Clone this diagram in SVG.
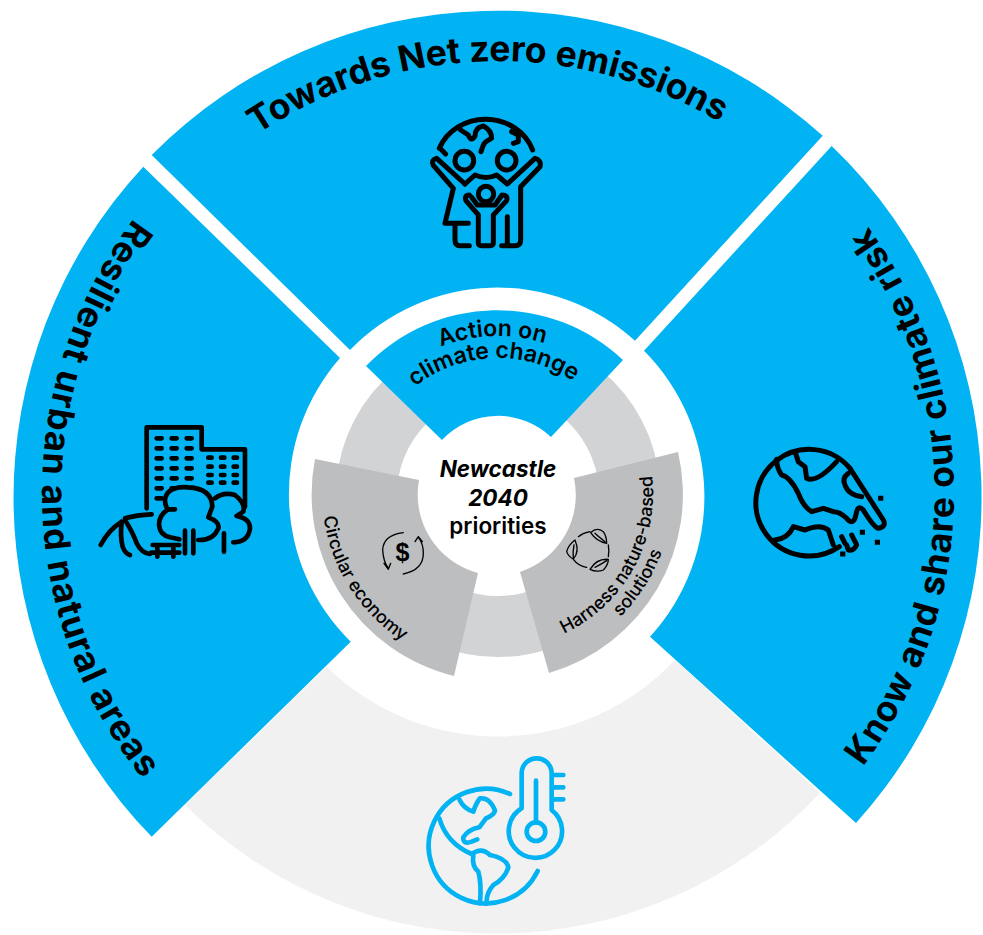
<svg xmlns="http://www.w3.org/2000/svg" width="983" height="935" viewBox="0 0 983 935">
<style>
.blue{fill:#02b3f3}
.t{font-family:"Inter","Liberation Sans",sans-serif;font-weight:600;fill:#000}
.big{font-size:35.5px;font-weight:700}
.mid{font-size:23px}
.sm{font-size:18px;font-weight:500}
.cen{font-size:22.5px;text-anchor:middle}
.ic{fill:none;stroke:#000;stroke-linecap:round;stroke-linejoin:round}
.ib{fill:none;stroke:#02b3f3;stroke-linecap:round;stroke-linejoin:round}
</style>
<defs>
<path id="pTop" d="M118.4 286.9A432 432 0 0 1 866.3 267.3"/>
<path id="pLeft" d="M270 98.1A456 456 0 0 0 283.9 895.6"/>
<path id="pRight" d="M722.5 889.9A456 456 0 0 0 729.4 100.1"/>
<path id="pAct1" d="M377.7 392.1A157 157 0 0 1 610.9 383.9"/>
<path id="pAct2" d="M394.6 406.2A135 135 0 0 1 595.1 399.2"/>
<path id="pCirc" d="M324.7 462.4A176 176 0 0 0 452.4 663"/>
<path id="pHar1" d="M539.7 642.7A155 155 0 0 0 647 450.3"/>
<path id="pHar2" d="M543 661.1A174 174 0 0 0 669.4 463"/>
</defs>
<rect width="983" height="935" fill="#fff"/>

<g id="node-climate-bottom">
<path d="M185 805A442 442 0 0 0 820 793L675 660A244 244 0 0 1 326.7 666.7Z" fill="#f1f1f2"/>
<g class="ib" stroke-width="14" transform="translate(410 740) scale(.3333)">
<path d="M300 162A172 172 0 1 0 383 393"/>
<path d="M335 205V100A43 43 0 0 1 425 100V210A80 80 0 1 1 335 205Z"/>
<circle cx="378" cy="275" r="28"/>
<path d="M378 122V248M432 105H460M432 142H460M432 178H460"/>
<path d="M148 178Q160 205 190 215Q198 190 210 175Q240 172 255 212Q252 225 228 235L208 262Q175 268 160 292Q158 315 185 305L202 298"/>
<path d="M88 235Q110 310 185 342Q215 320 240 345Q290 355 295 382Q285 415 250 435Q228 460 230 490"/>
<path d="M190 345Q185 380 205 395Q215 430 210 490"/>
</g>
</g>

<g id="node-net-zero">
<path class="blue" d="M151.7 155A486 486 0 0 1 822.7 135.7L635 340.7A205 205 0 0 0 350 350Z"/>
<text class="t big"><textPath href="#pTop" startOffset="50%" text-anchor="middle">Towards Net zero emissions</textPath></text>
<g class="ic" stroke-width="15" transform="translate(400 80) scale(.3333)">
<path d="M118 205A150 140 0 0 1 398 210"/>
<path d="M120 205L137 222M182 150L205 165Q213 188 225 168Q225 142 250 138Q275 150 275 175Q255 185 250 195L243 215"/>
<path d="M335 155L355 165L355 185L340 190"/>
<circle cx="193" cy="242" r="28"/><circle cx="320" cy="242" r="28"/><circle cx="258" cy="342" r="23"/>
<path d="M195 312L110 235Q92 240 100 256L160 325L135 430H205M165 430V480Q165 497 180 497H208"/>
<path d="M195 312L225 285Q258 300 290 285L322 312L405 235Q425 240 420 260L362 320V480Q362 497 345 497H305M322 410V492"/>
<path d="M208 345Q192 345 198 362L235 405V490Q235 497 245 497H270Q280 497 280 490V405L320 362Q325 345 306 345L285 375H232L215 352"/>
</g>
</g>

<g id="node-resilient">
<path class="blue" d="M143.3 166.7A486 486 0 0 0 151.7 836.7L350.7 641.7A207 207 0 0 1 340 358Z"/>
<text class="t big" letter-spacing="1.1"><textPath href="#pLeft" startOffset="50%" text-anchor="middle">Resilient urban and natural areas</textPath></text>
<g class="ic" stroke-width="14" transform="translate(80 410) scale(.3333)">
<path d="M200 295V52H365V115M365 118H495V290"/>
<path d="M230 85H245M275 85H290M320 85H335M230 115H245M275 115H290M320 115H335M230 145H245M275 145H290M320 145H335M230 175H245M275 175H290M320 175H335M230 205H245M275 205H290M320 205H335M230 235H245M275 235H285M230 265H245"/>
<path d="M385 143H395M423 143H433M461 143H471M385 170H395M423 170H433M461 170H471M385 195H395M423 195H433M461 195H471M385 218H395M423 218H433M461 218H471"/>
<path d="M285 298H262Q248 270 262 250Q280 228 325 232Q395 235 397 290L385 322Q420 335 415 355Q400 392 355 390"/>
<path d="M262 300Q237 315 237 345Q240 375 270 382L298 388"/>
<path d="M315 362V430M340 362V430"/>
<path d="M405 265Q430 245 465 255Q497 280 490 305L470 318Q510 325 510 355Q505 397 460 397M432 370V425"/>
<path d="M218 405H298M214 428H298M232 408V440M280 408V440"/>
<path d="M62 405Q85 360 125 335M135 325Q170 315 215 313M125 335Q120 380 128 410Q135 430 150 435M135 330Q160 370 170 400Q185 430 210 432"/>
</g>
</g>

<g id="node-know-share">
<path class="blue" d="M831.7 146A486 486 0 0 1 856 823L650 636.7A207 207 0 0 0 644 350.7Z"/>
<text class="t big" letter-spacing=".8"><textPath href="#pRight" startOffset="50%" text-anchor="middle">Know and share our climate risk</textPath></text>
<g class="ic" stroke-width="15" transform="translate(730 430) scale(.3333)">
<path d="M360 115A160 160 0 1 0 328 350"/>
<path d="M360 115L460 270Q470 290 445 295Q430 290 400 240Q385 225 380 245L375 265Q365 285 350 265Q330 245 310 245L280 235L245 245Q220 230 205 190Q180 140 155 135Q140 115 140 88"/>
<path d="M195 65L205 95L225 110L230 145Q260 160 320 95"/>
<path d="M355 130Q335 145 345 165Q355 195 395 200"/>
<path d="M135 330Q175 325 190 290L225 300Q270 280 295 300L310 345"/>
<path d="M335 320L345 340M365 315L380 345Q370 365 355 360L350 345"/>
<path d="M452 205h.5M397 307h.5M442 337h.5M338 372h.5" stroke-linecap="square"/>
</g>
</g>

<g id="node-ring"><circle cx="498" cy="495" r="131.5" fill="none" stroke="#d1d3d4" stroke-width="61"/></g>

<g id="node-action">
<path class="blue" d="M366 366A183 183 0 0 1 623 360L551 437A77 77 0 0 0 442 440Z"/>
<text class="t mid"><textPath href="#pAct1" startOffset="50%" text-anchor="middle">Action on</textPath></text>
<text class="t mid"><textPath href="#pAct2" startOffset="50%" text-anchor="middle">climate change</textPath></text>
</g>

<g id="node-circular">
<path d="M315 459A187 187 0 0 0 454 676L478 573A81 81 0 0 1 419 480Z" fill="#bcbec0"/>
<text class="t sm"><textPath href="#pCirc" startOffset="50%" text-anchor="middle">Circular economy</textPath></text>
<g class="ic" stroke-width="4" transform="translate(370 520) scale(.3333)">
<path d="M100 38Q40 45 38 90Q40 125 55 145M42 130L55 148L62 130"/>
<path d="M100 162Q160 150 160 100Q160 70 145 52M135 65L145 50L157 65"/>
</g>
<text x="402.5" y="561" text-anchor="middle" font-family="Liberation Sans, sans-serif" font-weight="700" font-size="25">$</text>
</g>

<g id="node-harness">
<path d="M678 452A186 186 0 0 1 549 673L520 572A81 81 0 0 0 574 478Z" fill="#bcbec0"/>
<text class="t sm"><textPath href="#pHar1" startOffset="50%" text-anchor="middle">Harness nature-based</textPath></text>
<text class="t sm"><textPath href="#pHar2" startOffset="50%" text-anchor="middle">solutions</textPath></text>
<g class="ic" stroke-width="4" transform="translate(540 510) scale(.3333)">
<path d="M115 80Q130 68 150 65M205 105Q208 122 205 140M100 148Q115 168 140 172"/>
<path d="M152 68Q170 50 190 65Q200 80 200 100Q170 95 152 68ZM165 70Q175 80 195 95"/>
<path d="M105 90Q85 105 80 125Q85 140 100 147Q120 125 105 90ZM102 105Q98 125 100 145"/>
<path d="M150 178Q170 145 205 148Q205 165 190 180Q170 188 150 178ZM165 172Q180 165 200 152"/>
</g>
</g>

<g id="node-centre">
<text class="t cen" x="498" y="477" style="font-style:italic;font-weight:700">Newcastle</text>
<text class="t cen" x="498" y="506" style="font-style:italic;font-weight:700">2040</text>
<text class="t cen" x="498" y="534" style="font-size:22.5px">priorities</text>
</g>
<g id="connectors"></g>
</svg>
